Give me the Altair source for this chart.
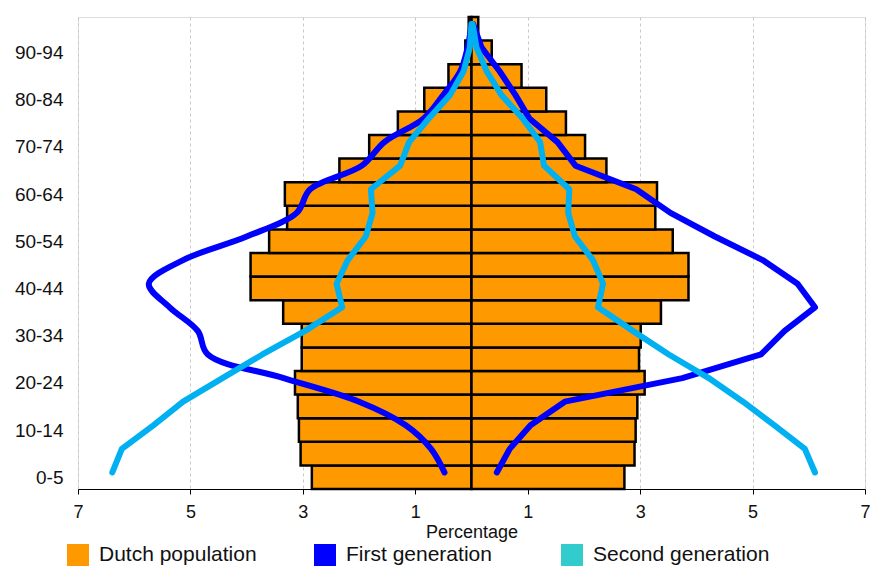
import altair as alt
import pandas as pd

ages = ["0-5", "5-9", "10-14", "15-19", "20-24", "25-29", "30-34", "35-39", "40-44", "45-49",
        "50-54", "55-59", "60-64", "65-69", "70-74", "75-79", "80-84", "85-89", "90-94", "95+"]

# Dutch population (percent), left and right halves of the pyramid
dutch_left = [2.84, 3.04, 3.07, 3.09, 3.14, 3.02, 3.02, 3.35, 3.93, 3.93,
              3.60, 3.28, 3.32, 2.35, 1.82, 1.31, 0.84, 0.41, 0.11, 0.05]
dutch_right = [2.72, 2.90, 2.92, 2.95, 3.08, 2.98, 3.01, 3.37, 3.86, 3.86,
               3.58, 3.27, 3.30, 2.40, 2.02, 1.68, 1.33, 0.89, 0.36, 0.12]

# First generation migrants
first_left = [0.48, 0.72, 1.17, 2.00, 3.34, 4.69, 4.87, 5.37, 5.74, 5.13,
              4.00, 3.11, 2.87, 1.95, 1.55, 0.85, 0.50, 0.20, 0.07, 0.0]
first_right = [0.45, 0.68, 1.05, 1.66, 3.75, 5.15, 5.57, 6.11, 5.80, 5.18,
               4.33, 3.54, 2.93, 1.85, 1.53, 1.03, 0.78, 0.50, 0.18, 0.03]

# Second generation migrants
second_left = [6.39, 6.22, 5.66, 5.13, 4.43, 3.72, 2.96, 2.30, 2.40, 2.20,
               1.88, 1.76, 1.79, 1.27, 1.11, 0.76, 0.38, 0.14, 0.03, 0.0]
second_right = [6.11, 5.93, 5.39, 4.83, 4.22, 3.51, 2.87, 2.25, 2.34, 2.16,
                1.84, 1.72, 1.74, 1.29, 1.22, 0.91, 0.53, 0.27, 0.09, 0.02]

series_names = ["Dutch population", "First generation", "Second generation"]
legend_colors = ["#FF9900", "#0000FF", "#33CCCC"]
x_ticks = [-7, -5, -3, -1, 1, 3, 5, 7]

# ---- tables ----
rows = []
for i, a in enumerate(ages):
    rows.append({"age": a, "lo": i, "hi": i + 1, "x0": -dutch_left[i], "x1": 0, "series": "Dutch population"})
    rows.append({"age": a, "lo": i, "hi": i + 1, "x0": 0, "x1": dutch_right[i], "series": "Dutch population"})
bars_df = pd.DataFrame(rows)


def line_df(vals, sign):
    return pd.DataFrame({"idx": list(range(len(ages))),
                         "ypos": [i + 0.7 for i in range(len(ages))],
                         "v": [sign * v for v in vals]})


x_scale = alt.Scale(domain=[-7, 7], nice=False, zero=False)
y_scale = alt.Scale(domain=[0, 20], nice=False, zero=False)

label_array = "[" + ",".join("'" + a + "'" for a in ages) + "]"

x_axis = alt.Axis(values=x_ticks, labelExpr="abs(datum.value)", title="Percentage",
                  grid=True, gridDash=[3, 3], gridColor="#C8C8C8", gridWidth=1,
                  domainColor="#000000", tickColor="#000000", tickSize=5,
                  labelFlush=False, labelOverlap=False,
                  labelFontSize=18, titleFontSize=18, titleFontWeight="normal",
                  labelPadding=9, titlePadding=2, labelColor="#111111", titleColor="#111111")
y_axis = alt.Axis(values=[i + 0.5 for i in range(0, 20, 2)],
                  labelExpr=label_array + "[floor(datum.value)]",
                  title=None, grid=False, domain=False, ticks=False,
                  labelFontSize=19, labelPadding=15, labelColor="#111111")

bars = alt.Chart(bars_df).mark_rect(stroke="#000000", strokeWidth=2.5).encode(
    x=alt.X("x0:Q", scale=x_scale, axis=x_axis),
    x2="x1:Q",
    y=alt.Y("lo:Q", scale=y_scale, axis=y_axis),
    y2="hi:Q",
    color=alt.Color("series:N",
                    scale=alt.Scale(domain=series_names, range=legend_colors),
                    legend=alt.Legend(title=None, orient="none", direction="horizontal",
                                      columns=3, gridAlign="all", columnPadding=38,
                                      legendX=-11, legendY=527,
                                      symbolType="square", symbolSize=484,
                                      symbolStrokeWidth=0, symbolOpacity=1,
                                      labelFontSize=21, labelOffset=10,
                                      labelColor="#111111", labelLimit=300)),
)


def line_layer(vals, sign, color, interp):
    return alt.Chart(line_df(vals, sign)).mark_line(
        color=color, strokeWidth=6, strokeCap="round", strokeJoin="round", interpolate=interp
    ).encode(
        x=alt.X("v:Q", scale=x_scale),
        y=alt.Y("ypos:Q", scale=y_scale),
        order="idx:Q",
    )


chart = alt.layer(
    bars,
    line_layer(first_left, -1, "#0000FF", "catmull-rom"),
    line_layer(first_right, 1, "#0000FF", "linear"),
    line_layer(second_left, -1, "#00B0F0", "linear"),
    line_layer(second_right, 1, "#00B0F0", "linear"),
).properties(
    width=787, height=472,
    autosize=alt.AutoSizeParams(type="none"),
    padding={"top": 9, "left": 70, "right": 5, "bottom": 78},
).configure_view(stroke=None).configure(font="Liberation Sans")

chart.save("out.html", embed_options={"renderer": "svg", "actions": False})
